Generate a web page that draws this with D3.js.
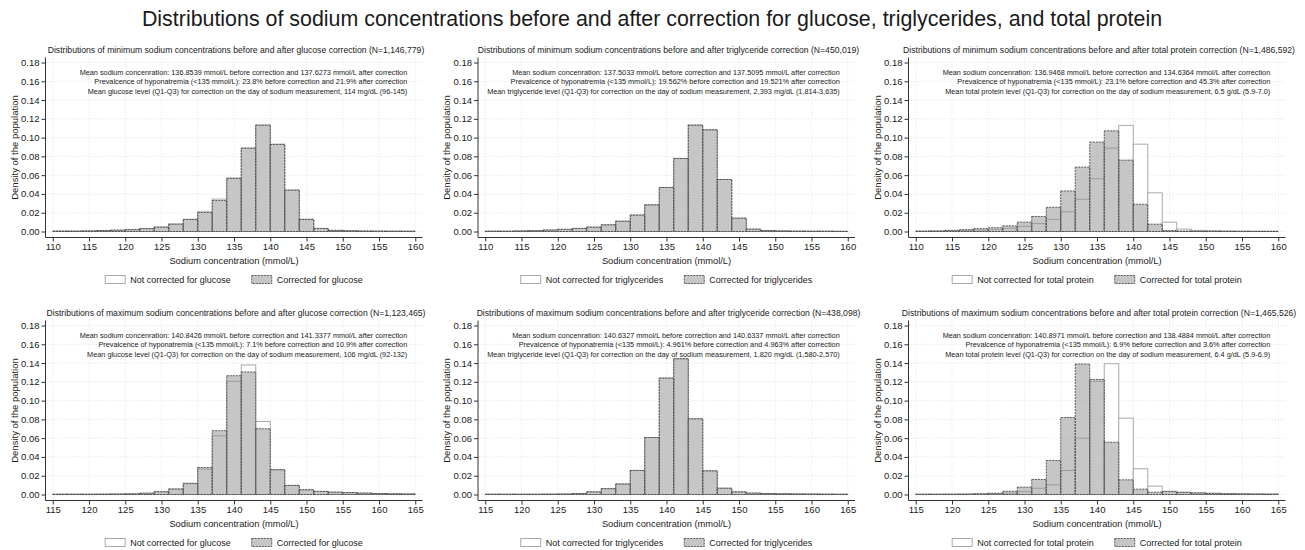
<!DOCTYPE html>
<html>
<head>
<meta charset="utf-8">
<script src="https://cdn.jsdelivr.net/npm/d3@7"></script>
<style>
body { margin: 0; background: #fff; }
svg text { font-family: "Liberation Sans", Arial, Helvetica, sans-serif; fill: #1a1a1a; }
</style>
</head>
<body>
<svg id="chart" width="1305" height="550"></svg>
<script>
// ---- data (densities per 2 mmol/L bin) ----
const mainTitle = "Distributions of sodium concentrations before and after correction for glucose, triglycerides, and total protein";

const minBins = d3.range(110, 160, 2); // bin starts, minimum sodium panels
const maxBins = d3.range(115, 165, 2); // bin starts, maximum sodium panels
const yTicks = [0, 0.02, 0.04, 0.06, 0.08, 0.10, 0.12, 0.14, 0.16, 0.18];
const minTicks = [110, 115, 120, 125, 130, 135, 140, 145, 150, 155, 160];
const maxTicks = [115, 120, 125, 130, 135, 140, 145, 150, 155, 160, 165];

const minGlucoseBefore = [0.0004,0.0004,0.0006,0.001,0.0015,0.0022,0.0032,0.0048,0.008,0.013,0.021,0.0345,0.057,0.0888,0.1133,0.093,0.0443,0.0131,0.0033,0.0012,0.0008,0.0005,0.0004,0.0003,0.0003];
const minGlucoseAfter  = [0.0004,0.0004,0.0006,0.001,0.0014,0.002,0.003,0.0046,0.0078,0.0128,0.0202,0.033,0.0565,0.0888,0.1133,0.0927,0.044,0.0128,0.0032,0.0012,0.0008,0.0005,0.0004,0.0003,0.0003];
const minTrigBefore    = [0.0003,0.0003,0.0006,0.0009,0.0016,0.0023,0.0033,0.0046,0.0071,0.011,0.0175,0.0284,0.0469,0.0778,0.1133,0.1083,0.0554,0.0142,0.0025,0.001,0.0006,0.0004,0.0003,0.0003,0.0002];
const minTrigAfter     = [0.0003,0.0003,0.0006,0.0009,0.0016,0.0023,0.0033,0.0046,0.0071,0.011,0.0175,0.0284,0.0469,0.0778,0.1133,0.1083,0.0554,0.0142,0.0025,0.001,0.0006,0.0004,0.0003,0.0003,0.0002];
const minProteinBefore = [0.0003,0.0004,0.0006,0.001,0.0015,0.002,0.0035,0.0055,0.0084,0.0129,0.021,0.0343,0.0562,0.0888,0.113,0.093,0.0412,0.0099,0.0025,0.0012,0.0008,0.0005,0.0004,0.0003,0.0003];
const minProteinAfter  = [0.0004,0.0006,0.0012,0.002,0.003,0.004,0.006,0.010,0.016,0.0258,0.0432,0.0685,0.0952,0.1072,0.076,0.029,0.0078,0.001,0.0005,0.0003,0.0002,0.0002,0.0001,0.0001,0.0001];

const maxGlucoseBefore = [0.0003,0.0003,0.0003,0.0004,0.0005,0.0007,0.0013,0.0028,0.0055,0.0115,0.027,0.0625,0.1205,0.138,0.0778,0.0265,0.0097,0.005,0.0033,0.0025,0.002,0.0015,0.001,0.0008,0.0006];
const maxGlucoseAfter  = [0.0003,0.0003,0.0003,0.0004,0.0005,0.0007,0.0014,0.003,0.006,0.012,0.0288,0.068,0.1265,0.1305,0.07,0.0263,0.0097,0.005,0.0033,0.0025,0.002,0.0015,0.001,0.0008,0.0006];
const maxTrigBefore    = [0.0003,0.0003,0.0003,0.0003,0.0004,0.0005,0.001,0.0028,0.0062,0.0112,0.0256,0.0607,0.124,0.1446,0.0806,0.0252,0.0067,0.0028,0.0015,0.001,0.0008,0.0006,0.0005,0.0004,0.0003];
const maxTrigAfter     = [0.0003,0.0003,0.0003,0.0003,0.0004,0.0005,0.001,0.0028,0.0062,0.0112,0.0256,0.0607,0.124,0.1446,0.0806,0.0252,0.0067,0.0028,0.0015,0.001,0.0008,0.0006,0.0005,0.0004,0.0003];
const maxProteinBefore = [0.0003,0.0003,0.0003,0.0003,0.0004,0.0007,0.0015,0.003,0.0067,0.0103,0.0256,0.06,0.1204,0.1393,0.0813,0.0274,0.0089,0.0035,0.0025,0.002,0.0015,0.001,0.0008,0.0006,0.0005];
const maxProteinAfter  = [0.0003,0.0003,0.0004,0.0005,0.0008,0.0014,0.0035,0.0078,0.016,0.0362,0.082,0.139,0.1225,0.0557,0.0156,0.0057,0.0025,0.003,0.0022,0.0015,0.001,0.0008,0.0006,0.0005,0.0004];

const subtitles = [
  "Distributions of minimum sodium concentrations before and after glucose correction (N=1,146,779)",
  "Distributions of minimum sodium concentrations before and after triglyceride correction (N=450,019)",
  "Distributions of minimum sodium concentrations before and after total protein correction (N=1,486,592)",
  "Distributions of maximum sodium concentrations before and after glucose correction (N=1,123,465)",
  "Distributions of maximum sodium concentrations before and after triglyceride correction (N=438,098)",
  "Distributions of maximum sodium concentrations before and after total protein correction (N=1,465,526)"
];
const notes = [
  ["Mean sodium concenration: 136.8539 mmol/L before correction and 137.6273 mmol/L after correction",
   "Prevalcence of hyponatremia (<135 mmol/L): 23.8% before correction and 21.9% after correction",
   "Mean glucose level (Q1-Q3) for correction on the day of sodium measurement, 114 mg/dL (96-145)"],
  ["Mean sodium concenration: 137.5033 mmol/L before correction and 137.5095 mmol/L after correction",
   "Prevalcence of hyponatremia (<135 mmol/L): 19.562% before correction and 19.521% after correction",
   "Mean triglyceride level (Q1-Q3) for correction on the day of sodium measurement, 2,393 mg/dL (1,814-3,635)"],
  ["Mean sodium concenration: 136.9468 mmol/L before correction and 134.6364 mmol/L after correction",
   "Prevalcence of hyponatremia (<135 mmol/L): 23.1% before correction and 45.3% after correction",
   "Mean total protein level (Q1-Q3) for correction on the day of sodium measurement, 6.5 g/dL (5.9-7.0)"],
  ["Mean sodium concenration: 140.8426 mmol/L before correction and 141.3377 mmol/L after correction",
   "Prevalcence of hyponatremia (<135 mmol/L): 7.1% before correction and 10.9% after correction",
   "Mean glucose level (Q1-Q3) for correction on the day of sodium measurement, 106 mg/dL (92-132)"],
  ["Mean sodium concenration: 140.6327 mmol/L before correction and 140.6337 mmol/L after correction",
   "Prevalcence of hyponatremia (<135 mmol/L): 4.961% before correction and 4.963% after correction",
   "Mean triglyceride level (Q1-Q3) for correction on the day of sodium measurement, 1,820 mg/dL (1,580-2,570)"],
  ["Mean sodium concenration: 140.8971 mmol/L before correction and 138.4884 mmol/L after correction",
   "Prevalcence of hyponatremia (<135 mmol/L): 6.9% before correction and 3.6% after correction",
   "Mean total protein level (Q1-Q3) for correction on the day of sodium measurement, 6.4 g/dL (5.9-6.9)"]
];
const analytes = ["glucose", "triglycerides", "total protein"];

// ---- layout ----
const colX = [45.5, 478, 908.5];   // y axis line of each column
const rowZero = [231.5, 494.5];    // pixel of density 0 in each row
const plotW = 377, plotH = 169;    // 0 -> 0.18

const panels = [
  {row: 0, col: 0, bins: minBins, ticks: minTicks, before: minGlucoseBefore, after: minGlucoseAfter},
  {row: 0, col: 1, bins: minBins, ticks: minTicks, before: minTrigBefore, after: minTrigAfter},
  {row: 0, col: 2, bins: minBins, ticks: minTicks, before: minProteinBefore, after: minProteinAfter},
  {row: 1, col: 0, bins: maxBins, ticks: maxTicks, before: maxGlucoseBefore, after: maxGlucoseAfter},
  {row: 1, col: 1, bins: maxBins, ticks: maxTicks, before: maxTrigBefore, after: maxTrigAfter},
  {row: 1, col: 2, bins: maxBins, ticks: maxTicks, before: maxProteinBefore, after: maxProteinAfter}
];

const svg = d3.select('#chart');

svg.append('text')
  .attr('x', 652).attr('y', 25.5)
  .attr('text-anchor', 'middle')
  .style('font-size', '21.4px')
  .text(mainTitle);

const grayFill = '#8e8e8e';
const grayStroke = '#4a4a4a';

panels.forEach((p, i) => {
  const x0 = colX[p.col];
  const lo = p.bins[0];
  const hi = p.bins[p.bins.length - 1] + 2;
  const x = d3.scaleLinear().domain([lo - 1, hi + 1]).range([x0, x0 + plotW]);
  const y = d3.scaleLinear().domain([0, 0.18]).range([rowZero[p.row], rowZero[p.row] - plotH]);
  const axisY = y(0) + 6;
  const top = y(0.18) - 5;

  const g = svg.append('g');

  // grid
  g.selectAll('line.hgrid').data(yTicks).join('line')
    .attr('class', 'hgrid')
    .attr('x1', x0).attr('x2', x0 + plotW)
    .attr('y1', d => y(d)).attr('y2', d => y(d))
    .attr('stroke', '#e4e4e4').attr('stroke-width', 0.8).attr('stroke-dasharray', '1.5,1.5');
  g.selectAll('line.vgrid').data(p.ticks).join('line')
    .attr('class', 'vgrid')
    .attr('x1', d => x(d)).attr('x2', d => x(d))
    .attr('y1', top).attr('y2', axisY)
    .attr('stroke', '#e9e9e9').attr('stroke-width', 0.8).attr('stroke-dasharray', '1.5,1.5');

  // uncorrected (outline) then corrected (translucent gray, dashed)
  const rows = p.bins.map((b, k) => ({b: b, before: p.before[k], after: p.after[k]}));
  g.selectAll('rect.before').data(rows).join('rect')
    .attr('class', 'before')
    .attr('x', d => x(d.b)).attr('width', d => x(d.b + 2) - x(d.b))
    .attr('y', d => y(d.before)).attr('height', d => y(0) - y(d.before))
    .attr('fill', '#fff').attr('stroke', '#a9a9a9').attr('stroke-width', 1);
  g.selectAll('rect.after').data(rows).join('rect')
    .attr('class', 'after')
    .attr('x', d => x(d.b)).attr('width', d => x(d.b + 2) - x(d.b))
    .attr('y', d => y(d.after)).attr('height', d => y(0) - y(d.after))
    .attr('fill', grayFill).attr('fill-opacity', 0.5)
    .attr('stroke', grayStroke).attr('stroke-width', 0.9).attr('stroke-dasharray', '2,1');

  // axes
  const yAxis = g.append('g').attr('transform', `translate(${x0},0)`)
    .call(d3.axisLeft(y).tickValues(yTicks).tickFormat(d3.format('.2f')).tickSize(4).tickPadding(2));
  yAxis.select('.domain').remove();
  yAxis.selectAll('line').attr('stroke', '#333');
  yAxis.selectAll('text').style('font-size', '9.5px').attr('fill', '#222');
  g.append('line').attr('x1', x0).attr('x2', x0).attr('y1', top).attr('y2', axisY)
    .attr('stroke', '#333').attr('stroke-width', 1);

  const xAxis = g.append('g').attr('transform', `translate(0,${axisY})`)
    .call(d3.axisBottom(x).tickValues(p.ticks).tickFormat(d3.format('d')).tickSize(4).tickPadding(2));
  xAxis.select('.domain').remove();
  xAxis.selectAll('line').attr('stroke', '#333');
  xAxis.selectAll('text').style('font-size', '9.5px').attr('fill', '#222');
  g.append('line').attr('x1', x0).attr('x2', x0 + plotW).attr('y1', axisY).attr('y2', axisY)
    .attr('stroke', '#333').attr('stroke-width', 1);

  // axis titles
  g.append('text')
    .attr('transform', `translate(${x0 - 28},${(top + axisY) / 2}) rotate(-90)`)
    .attr('text-anchor', 'middle')
    .style('font-size', '9.5px')
    .text('Density of the population');
  g.append('text')
    .attr('x', x0 + plotW / 2).attr('y', axisY + 26)
    .attr('text-anchor', 'middle')
    .style('font-size', '9.3px')
    .text('Sodium concentration (mmol/L)');

  // subtitle
  g.append('text')
    .attr('x', x0 + plotW / 2 + 2).attr('y', y(0.18) - 10)
    .attr('text-anchor', 'middle')
    .style('font-size', '8.65px')
    .text(subtitles[i]);

  // notes
  g.selectAll('text.note').data(notes[i]).join('text')
    .attr('class', 'note')
    .attr('x', x(hi) - 8)
    .attr('y', (d, k) => y(0.18) + 12 + k * 9.7)
    .attr('text-anchor', 'end')
    .style('font-size', '7.3px')
    .text(d => d);

  // legend
  const leg = g.append('g').attr('transform', `translate(0,${axisY + 42})`);
  const items = ['Not corrected for ' + analytes[p.col], 'Corrected for ' + analytes[p.col]];
  const texts = leg.selectAll('text').data(items).join('text')
    .attr('y', 3.3)
    .style('font-size', '9px')
    .text(d => d);
  const widths = texts.nodes().map(n => n.getComputedTextLength());
  const boxW = 20, boxH = 8, gap = 5, sep = 21;
  const total = 2 * (boxW + gap) + widths[0] + widths[1] + sep;
  let cx = x0 + plotW / 2 - total / 2;
  const starts = [cx, cx + boxW + gap + widths[0] + sep];
  texts.attr('x', (d, k) => starts[k] + boxW + gap);
  leg.append('rect').attr('x', starts[0]).attr('y', -boxH / 2).attr('width', boxW).attr('height', boxH)
    .attr('fill', '#fff').attr('stroke', '#a9a9a9').attr('stroke-width', 1);
  leg.append('rect').attr('x', starts[1]).attr('y', -boxH / 2).attr('width', boxW).attr('height', boxH)
    .attr('fill', grayFill).attr('fill-opacity', 0.5)
    .attr('stroke', grayStroke).attr('stroke-width', 0.9).attr('stroke-dasharray', '2,1');
});
</script>
</body>
</html>
